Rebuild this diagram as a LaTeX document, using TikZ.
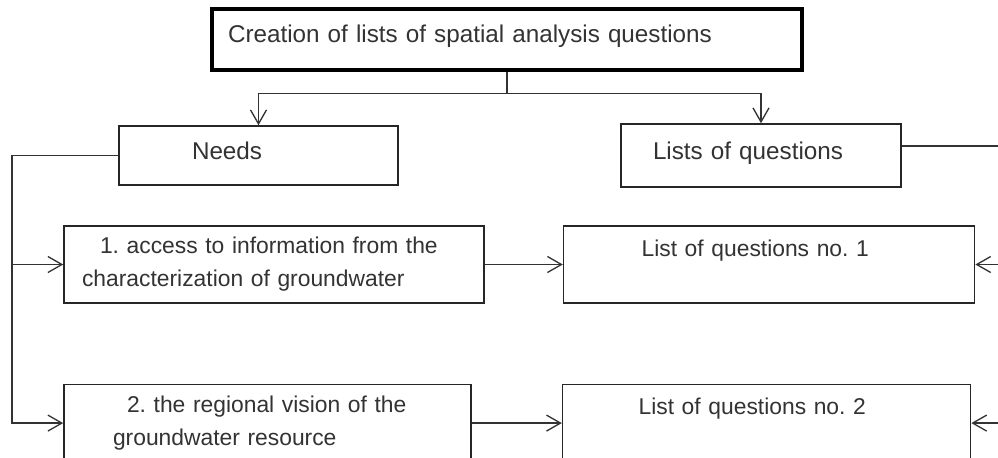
\documentclass[tikz,border=0pt]{standalone}
\usepackage{fontspec}
\setmainfont{Liberation Sans}
\usepackage{xcolor}
\usepackage{tikz}
\usetikzlibrary{arrows.meta, positioning}

\begin{document}
\frenchspacing
\begin{tikzpicture}[font=\fontsize{13.8}{18.8}\selectfont]
\tikzstyle{box} = [rectangle, draw=black!85, line width=0.9pt,
    align=left, inner ysep=0pt, text=black!80,
    minimum height=1.54cm]
\tikzstyle{rowbox} = [box, font=\fontsize{13}{18.8}\selectfont]
\tikzstyle{headbox} = [box, draw=black, line width=1.8pt]
\tikzstyle{link} = [line width=0.75pt, draw=black!80]
\tikzstyle{arrow} = [link, -{Straight Barb[length=2.8mm, width=3.2mm]}]

\fill[white] (0,0) rectangle (19.96,-9.14);
\useasboundingbox (0,0) rectangle (19.96,-9.14);
\clip (0,0) rectangle (19.96,-9.14);

\node (head) [headbox, minimum height=1.22cm, text depth=0.25cm,
    text width=11.16cm, inner xsep=0.32cm] at (10.14,-0.79)
    {Creation of lists of spatial analysis questions};
\node (needs) [box, minimum height=1.18cm, text depth=0.2cm,
    text width=2.66cm, inner xsep=1.46cm] at (5.17,-3.11)
    {Needs};
\node (lists) [box, minimum height=1.26cm, text depth=0.2cm,
    text width=4.32cm, inner xsep=0.64cm] at (15.22,-3.11)
    {Lists of questions};

% --- ROWS OF NEEDS AND QUESTION LISTS ---
\node (need1) [rowbox, text width=7.68cm, inner xsep=0.36cm] at (5.48,-5.29)
    {\hspace*{0.36cm}1. access to information from the\\
     characterization of groundwater};
\node (list1) [rowbox, right=1.56cm of need1, text width=5.1cm, inner xsep=1.56cm]
    {List of questions no. 1\\ \mbox{}};
\node (need2) [rowbox, below right=1.6cm and 0cm of need1.south west,
    text width=6.18cm, inner xsep=0.98cm]
    {\hspace*{0.28cm}2. the regional vision of the\\
     groundwater resource};
\node (list2) [rowbox, right=1.8cm of need2, text width=5.12cm, inner xsep=1.52cm]
    {List of questions no. 2\\ \mbox{}};
% ----------------------------------------

\draw [link] (head.south) -- ++(0,-0.44) coordinate (split);
\draw [arrow] (split) -| (needs.north);
\draw [arrow] (split) -| (lists.north);

% --- SIDE LINES ---
\coordinate (lspine) at (0.24,0);
\coordinate (rspine) at (20.4,0);
\draw [arrow] (needs.west) -| (lspine |- need2.west) -- (need2.west);
\draw [arrow] (lspine |- need1.west) -- (need1.west);
\draw [link] ([yshift=0.19cm]lists.east) -| (rspine |- list2.east);
\draw [arrow] (rspine |- list1.east) -- (list1.east);
\draw [arrow] (rspine |- list2.east) -- (list2.east);
% ------------------

\draw [arrow] (need1) -- (list1);
\draw [arrow] (need2) -- (list2);
\end{tikzpicture}
\end{document}
